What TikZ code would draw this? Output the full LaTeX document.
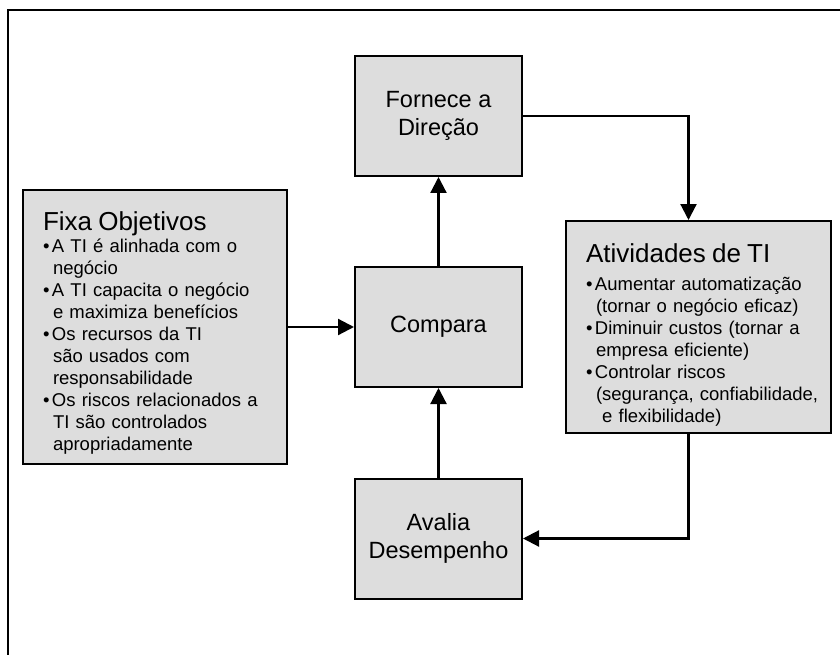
\documentclass[tikz,border=0pt]{standalone}
\usepackage{fontspec}
\setmainfont{Liberation Sans}
\usetikzlibrary{arrows.meta}
\definecolor{caixa}{RGB}{221,221,221}
\newcommand{\blt}{\makebox[9pt][l]{•}}
\newcommand{\cnt}{\hspace*{10pt}}

\begin{document}
\begin{tikzpicture}[x=1pt, y=-1pt,
bloco/.style={draw=black, line width=2pt, fill=caixa,
  minimum width=167pt, minimum height=120pt, align=center,
  font=\fontsize{23.5}{28}\selectfont},
lista/.style={draw=black, line width=2pt, fill=caixa, align=left,
  font=\fontsize{18.5}{22}\selectfont},
seta/.style={line width=2.2pt, -{Triangle[width=16pt,length=16pt]}},
]
\useasboundingbox (0,0) rectangle (840,655);
\draw[line width=2.5pt] (8,655) |- (840,10); %рамка

\node[bloco] (fornece) at (438.5,116) {Fornece a\\Direção};
\node[bloco] (compara) at (438.5,327) {Compara};
\node[bloco] (avalia) at (438.5,538.5) {Avalia\\Desempenho};

\node[lista, text width=224pt, inner xsep=20pt, minimum height=273pt]
  (fixa) at (155,327) {{\fontsize{26}{28}\selectfont\rule{0pt}{30pt}Fixa Objetivos}\\
\blt A TI é alinhada com o\\
\cnt negócio\\
\blt A TI capacita o negócio\\
\cnt e maximiza benefícios\\
\blt Os recursos da TI\\
\cnt são usados com\\
\cnt responsabilidade\\
\blt \mbox{Os riscos relacionados a}\\
\cnt TI são controlados\\
\cnt apropriadamente};

\node[lista, text width=225pt, inner xsep=20pt, minimum height=212pt]
  (ativ) at (698.5,327) {{\fontsize{26}{28}\selectfont\rule{0pt}{34pt}Atividades de TI}\\[6pt]
\blt \mbox{Aumentar automatização}\\
\cnt\mbox{(tornar o negócio eficaz)}\\
\blt \mbox{Diminuir custos (tornar a}\\
\cnt empresa eficiente)\\
\blt Controlar riscos\\
\cnt\mbox{(segurança, confiabilidade,}\\
\cnt\ e flexibilidade)};

\draw[seta] (fixa.east) -- (compara.west);
\draw[seta] (compara) -- (fornece);
\draw[seta] (avalia) -- (compara);
\draw[seta] (fornece.east) -| ([xshift=-10pt]ativ.north); %вниз
\draw[seta] ([xshift=-10pt]ativ.south) |- (avalia.east);
\end{tikzpicture}
\end{document}
